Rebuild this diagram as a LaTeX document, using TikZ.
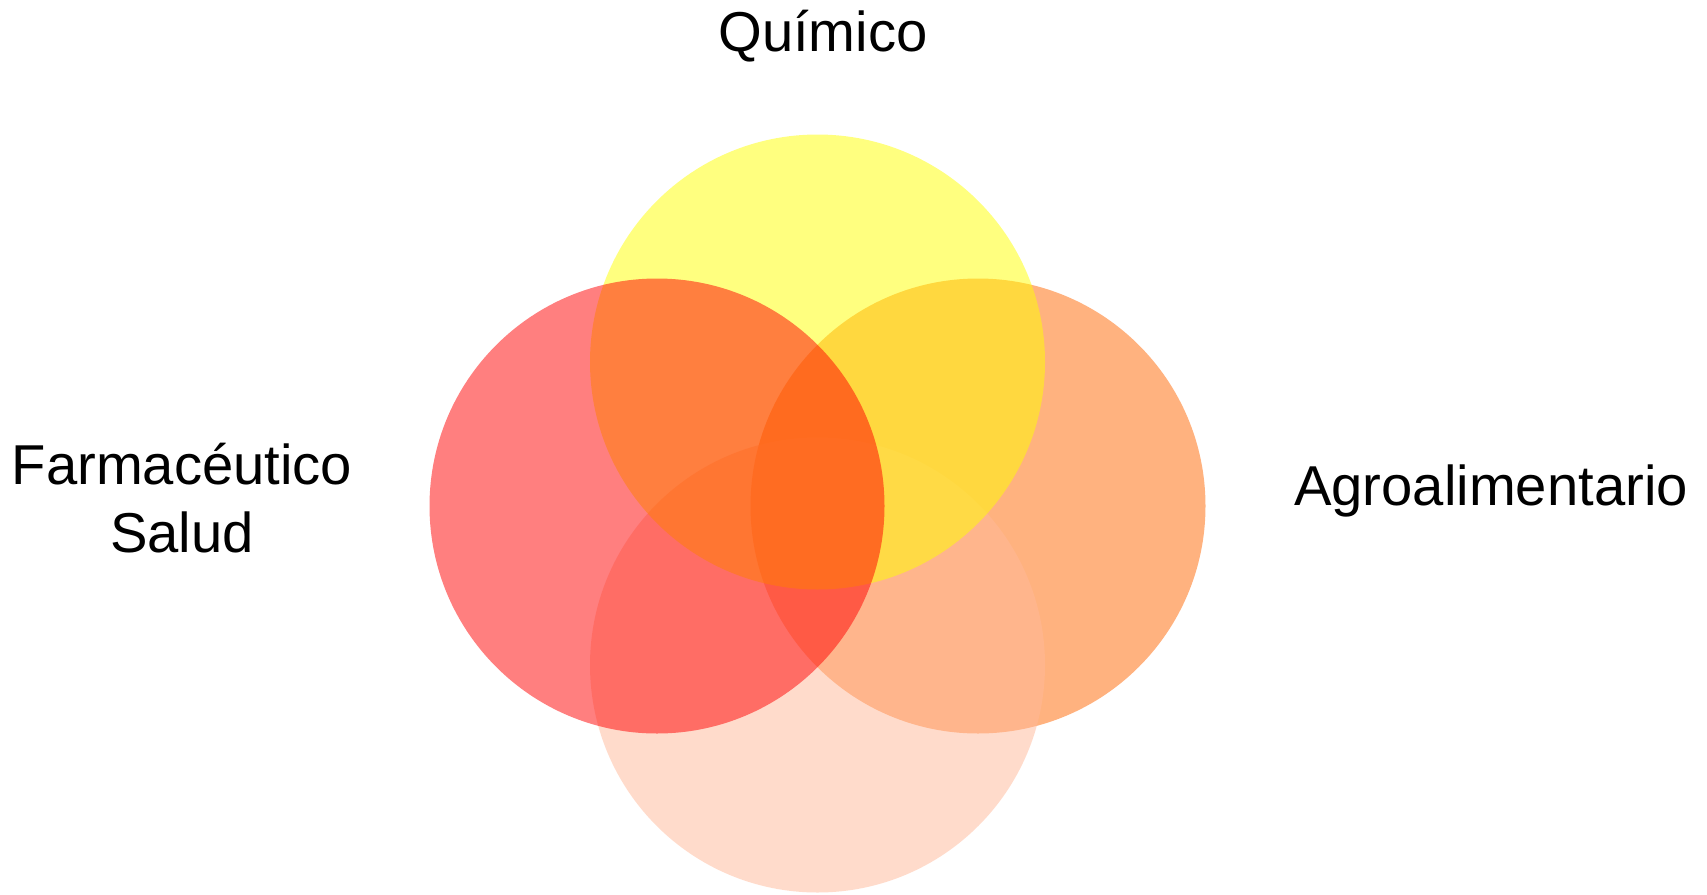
\documentclass[tikz,border=0pt]{standalone}
\usepackage{fontspec}
\setmainfont{Liberation Sans}
\definecolor{cyel}{HTML}{FFFF00}
\definecolor{cred}{HTML}{FF0000}
\definecolor{cora}{HTML}{FF6600}
\definecolor{cpea}{HTML}{FFB999}
\tikzset{
  disc/.style={fill=#1, fill opacity=0.5, draw=none},
  lbl/.style={font=\fontsize{56.2}{67}\selectfont, text=black, align=center, inner sep=0pt}
}
\begin{document}
\begin{tikzpicture}[x=1pt,y=-1pt]
\useasboundingbox (0,0) rectangle (1707,894);
\fill[white] (0,0) rectangle (1707,894);
\path[disc=cora] (978,506) circle[radius=227.5pt];
\path[disc=cpea] (817.5,665) circle[radius=227.5pt];
\path[disc=cyel] (817.5,362) circle[radius=227.5pt];
\path[disc=cred] (657,506) circle[radius=227.5pt];
\node[lbl, anchor=base] (quim) at (823,51) {Químico};
\node[lbl, anchor=base] (agro) at (1491,505) {Agroalimentario};
\node[lbl, anchor=base] (farm) at (182,484) {Farmacéutico};
\node[lbl, anchor=base] (salud) at (182,552) {Salud};
\end{tikzpicture}
\end{document}
